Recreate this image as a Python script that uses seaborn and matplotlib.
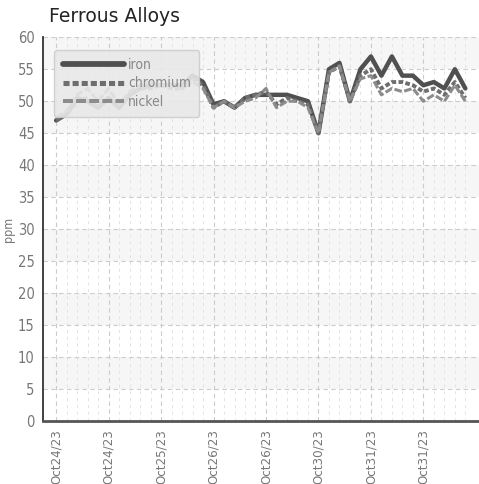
import seaborn as sns
import matplotlib.pyplot as plt
import pandas as pd
import numpy as np

# readings per sample (ppm)
iron = [47, 48, 50.5, 50, 49, 50.5, 49, 51, 52, 52.5, 52.5, 52.5, 52.5, 54, 53,
        49.5, 50, 49, 50.5, 51, 51, 51, 51, 50.5, 50, 45, 55, 56, 50, 55,
        57, 54, 57, 54, 54, 52.5, 53, 52, 55, 52]
chromium = [47, 48, 50, 50.5, 49, 50.5, 49, 51, 52, 52, 52.5, 52, 52, 53.5, 52.5,
            49, 50, 49, 50.5, 51, 51.5, 49.5, 50.5, 50, 49.5, 45, 54.5, 55.5, 50, 54,
            55, 52, 53, 53, 52.5, 51.5, 52, 51, 53, 50.5]
nickel = [47.5, 48.5, 51, 52, 50, 52, 49.5, 51.5, 52.5, 53, 52.5, 52.5, 52, 53, 52,
          49, 50, 49, 50, 50.5, 52, 49, 50, 50, 49, 45, 54.5, 55.5, 50, 53.5,
          54, 51, 52, 51.5, 52, 50, 51, 50, 52.5, 50]
tick_labels = ['Oct24/23', 'Oct24/23', 'Oct25/23', 'Oct26/23',
               'Oct26/23', 'Oct30/23', 'Oct31/23', 'Oct31/23']

sample = np.arange(len(iron))
df = pd.DataFrame({'sample': np.tile(sample, 3),
                   'ppm': iron + chromium + nickel,
                   'metal': ['iron'] * len(iron) + ['chromium'] * len(chromium)
                            + ['nickel'] * len(nickel)})

sns.set_style("white")
plt.rcParams['font.family'] = ['DejaVu Sans']

fig = plt.figure(figsize=(4.79, 4.84), dpi=100)
ax = fig.add_axes([0.09, 0.13, 0.91, 0.793])

# light alternating bands
for lo in range(5, 60, 10):
    ax.axhspan(lo, lo + 5, color='#f6f6f6', zorder=0, lw=0)

palette = {'iron': '#505050', 'chromium': '#6e6e6e', 'nickel': '#8c8c8c'}
sns.lineplot(data=df, x='sample', y='ppm', hue='metal', palette=palette,
             ax=ax, legend=False, zorder=3)
styles = {'iron': ('-', 3.2), 'chromium': ((0, (1.2, 0.6)), 2.8), 'nickel': ((0, (2.5, 0.8)), 2.2)}
for line, name in zip(ax.lines, ['iron', 'chromium', 'nickel']):
    line.set_linestyle(styles[name][0])
    line.set_linewidth(styles[name][1])
    line.set_label(name)

ax.set_xlim(-1.24, 40.3)
ax.set_ylim(0, 60)
ax.set_yticks(range(0, 61, 5))
ax.set_xticks(sample[::5])
ax.set_xticks(sample, minor=True)
ax.set_xticklabels(tick_labels, rotation=90)

for t in ax.get_yticklabels():
    t.set_fontstretch('condensed')
    t.set_color('#777777')
    t.set_fontsize(10.5)
for t in ax.get_xticklabels():
    t.set_fontstretch('condensed')
    t.set_color('#777777')
    t.set_fontsize(9.5)

ax.grid(True, axis='y', ls=(0, (4, 3)), color='#cccccc', lw=0.8)
ax.grid(True, axis='x', which='major', ls=(0, (4, 3)), color='#cbcbcb', lw=0.8)
ax.grid(True, axis='x', which='minor', ls=(0, (3, 4)), color='#e2e2e2', lw=0.7)
ax.tick_params(axis='both', which='major', direction='inout', length=6, width=1.2,
               color='#333333', pad=3)
ax.tick_params(axis='x', which='minor', direction='inout', length=4, width=0.6,
               color='#888888')

for s in ['top', 'right']:
    ax.spines[s].set_visible(False)
ax.spines['left'].set_color('#333333')
ax.spines['left'].set_linewidth(1.3)
ax.spines['bottom'].set_color('#555555')
ax.spines['bottom'].set_linewidth(2)

ax.set_xlabel('')
ax.set_ylabel('ppm', fontsize=9, color='#777777', labelpad=2, fontstretch='condensed')

leg = ax.legend(loc='upper left', bbox_to_anchor=(0.01, 0.985), handlelength=4.4,
                fontsize=10, frameon=True, fancybox=True, facecolor='#e8e8e8',
                edgecolor='#cccccc', framealpha=0.9, labelspacing=0.3,
                handletextpad=0.3, borderpad=0.6)
for t in leg.get_texts():
    t.set_color('#888888')
    t.set_fontstretch('condensed')
for h in leg.get_lines():
    h.set_linewidth(h.get_linewidth() * 1.3)

fig.text(0.102, 0.965, 'Ferrous Alloys', fontsize=13.5, color='#222222', va='center')

plt.savefig('out.png', dpi=100, facecolor='white')
